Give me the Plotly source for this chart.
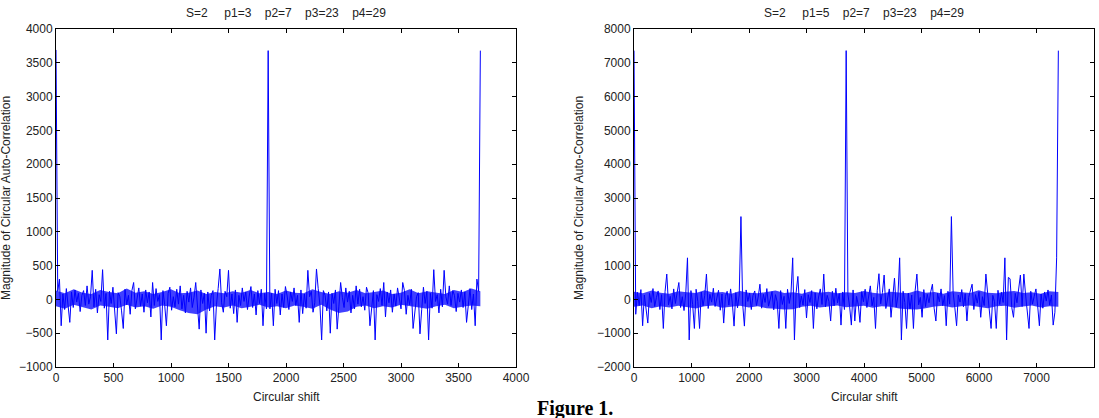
import numpy as np
import plotly.graph_objects as go

W, H = 1099, 418

# ---------------- data ----------------
left_step = 15   # circular shift between stored samples (left panel)
right_step = 30  # circular shift between stored samples (right panel)
left_end = 3690
right_end = 7380

left_first = [
    3690, 120, 300, -390, 80, -150, 160, -60, -340, 110,
    -120, 140, -40, 90, -180, 60, 130, -90, 200, -70,
    40, 430, -110, 150, -200, 70, -30, 440, -130, 90,
    -600, 120, -60, 180, -150, -510, 100, 40, -170, -430,
    150, -80, 60, -220, 130, 250, -140, 20, 170, -100,
    80, -190, 140, -50, 110, -260, 250, -90, 160, -30,
    70, -600, 130, -80, -390, 90, 180, -160, 40, -110,
    150, -70, 200, -140, 60, -200, 120, -40, 170, -120,
    30, 250, -100, -440, 140, -60, 90, -500, 110, -170,
    60, 130, -600, -80, 160, 450, -50, -190, 120, 40,
    430, -130, 80, -210, 140, -340, 60, -90, 170, -30,
    110, -150, 50, 190, -120, 80, -230, 130, -60, 150,
    -390, 90, -140,
]
left_mid = [3680]
left_second = [
    -140, 90, -390, 150, -60, 130, -230, 80, -120, 190,
    50, -150, 110, -30, 170, -90, 60, -340, 140, -210,
    80, -130, 430, 40, 120, -190, -50, 450, 160, -80,
    -600, 130, 60, -170, 110, -500, 90, -60, 140, -440,
    -100, 250, 30, -120, 170, -40, 120, -200, 60, -140,
    200, -70, 150, -110, 40, -160, 180, 90, -390, -80,
    130, -600, 70, -30, 160, -90, 250, -260, 110, -50,
    140, -190, 80, -100, 170, 20, -140, 250, 130, -220,
    60, -80, 150, -430, -170, 40, 100, -510, -150, 180,
    -60, 120, -600, 90, -130, 440, -30, 70, -200, 150,
    -110, 430, 40, -70, 200, -90, 130, 60, -180, 90,
    -40, 140, -120, 110, -340, -60, 160, -150, 80, -390,
    300, 120, 3680,
]
left_values = left_first + left_mid + left_second

right_values = [
    7360, -440, 210, -180, 290, -780, 130, -250, -700, 180,
    -90, 320, -210, 60, 250, -300, 140, -860, 230, 750,
    -160, 90, -280, 310, -120, 200, 500, -240, 80, -330,
    170, 1230, -1200, 260, -150, -860, 300, -60, -860, 220,
    -190, 110, 750, -270, 150, -80, 330, -210, 40, 270,
    -320, 160, -700, 90, 240, -170, 310, -110, -790, 200,
    -250, 130, 2450, -140, -790, 280, -60, 190, -300, 120,
    250, -180, 70, 450, -260, 150, -90, 320, -200, 60,
    230, -310, 140, -70, -860, 260, -150, 90, -860, 300,
    -120, 180, 1230, -1200, 210, 680, -240, 100, -170, 290,
    -550, 140, -90, 260, -860, 190, -280, 70, 310, -150,
    750, -220, 120, -60, -640, 240, -190, 330, -100, 170,
    -760, 220, -300,
    7360,
    150, -210, -760, 280, -640, 90,
    -150, -680, 230, -70, 300, -240, 120, 400, -190, 60,
    -860, 260, 760, -130, 200, 720, -270, 80, 310, -530,
    170, 630, -230, 100, 1230, -1200, 240, -90, -860, 190,
    -280, 130, -860, 270, 750, -160, 60, -530, 290, -210,
    150, -100, 220, 450, -260, -640, 180, -70, 310, -190,
    110, -780, 240, -140, 2450, 200, -250, -780, 130, -80,
    290, -220, 170, -640, 60, 260, 450, -300, 140, -110,
    230, -530, 80, -180, 750, 190, -260, -860, 120, -70,
    -860, 270, -150, 210, -90, 1230, -1200, 650, 610, -240,
    -530, 180, -100, 300, 720, -210, 750, 130, -280, -860,
    240, -140, 90, 310, -190, -780, 160, -260, 220, -50,
    280, -170, 130, -760, -380, 1230, 7360,
]

# dense noise core (upper / lower edges of the solid band), evenly spaced over the shift range
left_band_upper = [130, 90, 150, 100, 80, 140, 110, 90, 160, 100, 120, 80, 110, 150, 90, 100,
                   130, 80, 110, 90, 120, 100, 140, 90, 110, 80, 130, 100, 90, 150, 110, 80,
                   120, 100, 140, 90, 110, 130, 80, 100, 150, 90, 120, 100, 80, 140, 110, 160, 120]
left_band_lower = [-100, -140, -80, -120, -150, -90, -110, -130, -80, -120, -100, -140, -90,
                   -110, -160, -200, -220, -150, -100, -120, -90, -130, -110, -80, -120, -100,
                   -130, -90, -110, -140, -80, -150, -200, -180, -110, -90, -130, -100, -120,
                   -80, -110, -120, -140, -100, -80, -130, -110, -90, -100]
right_band_upper = [230, 180, 260, 200, 170, 240, 210, 190, 270, 200, 220, 170, 250, 200, 180,
                    230, 260, 190, 210, 170, 240, 200, 230, 180, 210, 190, 250, 200, 170, 230,
                    210, 180, 260, 200, 220, 170, 240, 210, 190, 270, 200, 180, 230, 250, 190,
                    210, 170, 240, 220]
right_band_lower = [-220, -180, -260, -200, -240, -190, -230, -270, -200, -180, -250, -210, -190,
                    -240, -200, -260, -280, -300, -290, -220, -190, -240, -200, -180, -230, -210,
                    -190, -250, -200, -220, -270, -290, -300, -260, -210, -190, -240, -200, -180,
                    -230, -260, -200, -190, -250, -210, -180, -240, -200, -220]

left_title = "S=2\u00a0\u00a0\u00a0\u00a0\u00a0p1=3\u00a0\u00a0\u00a0\u00a0p2=7\u00a0\u00a0\u00a0\u00a0p3=23\u00a0\u00a0\u00a0\u00a0p4=29"
right_title = "S=2\u00a0\u00a0\u00a0\u00a0\u00a0p1=5\u00a0\u00a0\u00a0\u00a0p2=7\u00a0\u00a0\u00a0\u00a0p3=23\u00a0\u00a0\u00a0\u00a0p4=29"
y_label = "Magnitude of Circular Auto-Correlation"
x_label = "Circular shift"
caption = "Figure 1."

left_x = np.arange(len(left_values)) * left_step
right_x = np.arange(len(right_values)) * right_step

# ---------------- figure ----------------
FONT = "Liberation Sans, Arial, sans-serif"
BLUE = "rgb(0,0,255)"
BAND = "rgba(0,0,255,0.75)"


def px_x(p):
    return p / W


def px_y(p):
    return 1 - p / H


fig = go.Figure()

for (end, up, lo, xa, ya) in ((left_end, left_band_upper, left_band_lower, "x", "y"),
                              (right_end, right_band_upper, right_band_lower, "x2", "y2")):
    bx = np.linspace(0, end, len(up))
    fig.add_trace(go.Scatter(x=np.concatenate([bx, bx[::-1]]),
                             y=list(up) + list(lo)[::-1],
                             mode="lines", fill="toself", fillcolor=BAND,
                             line=dict(width=0, color=BAND), xaxis=xa, yaxis=ya,
                             showlegend=False, hoverinfo="skip"))

fig.add_trace(go.Scatter(x=left_x, y=left_values, mode="lines",
                         line=dict(color=BLUE, width=1), xaxis="x", yaxis="y",
                         showlegend=False, hoverinfo="skip"))
fig.add_trace(go.Scatter(x=right_x, y=right_values, mode="lines",
                         line=dict(color=BLUE, width=1), xaxis="x2", yaxis="y2",
                         showlegend=False, hoverinfo="skip"))

ax_common = dict(showline=True, mirror="ticks", linecolor="black", linewidth=1,
                 ticks="inside", ticklen=4, tickcolor="black", showgrid=False,
                 zeroline=False, automargin=False,
                 tickfont=dict(family=FONT, size=12, color="#222"))

yb, yt = px_y(367), px_y(29)
fig.update_layout(
    width=W, height=H,
    margin=dict(l=0, r=0, t=0, b=0, pad=0, autoexpand=False),
    paper_bgcolor="white", plot_bgcolor="white",
    xaxis=dict(domain=[px_x(56), px_x(516)], range=[0, 4000], dtick=500,
               anchor="y", **ax_common),
    yaxis=dict(domain=[yb, yt], range=[-1000, 4000], dtick=500,
               anchor="x", **ax_common),
    xaxis2=dict(domain=[px_x(634), px_x(1094)], range=[0, 8000], dtick=1000,
                anchor="y2", **ax_common),
    yaxis2=dict(domain=[yb, yt], range=[-2000, 8000], dtick=1000,
                anchor="x2", **ax_common),
)

anns = []
txt_font = dict(family=FONT, size=12, color="#222")
for cx, title in ((286, left_title), (864, right_title)):
    anns.append(dict(text=title, x=px_x(cx), y=px_y(13), xref="paper", yref="paper",
                     xanchor="center", yanchor="middle", showarrow=False, font=txt_font))
    anns.append(dict(text=x_label, x=px_x(cx), y=px_y(397), xref="paper", yref="paper",
                     xanchor="center", yanchor="middle", showarrow=False, font=txt_font))
for lx in (6, 579):
    anns.append(dict(text=y_label, x=px_x(lx), y=px_y(198), xref="paper", yref="paper",
                     xanchor="center", yanchor="middle", textangle=-90, showarrow=False,
                     font=txt_font))
anns.append(dict(text="<b>" + caption + "</b>", x=px_x(575), y=px_y(408), xref="paper",
                 yref="paper", xanchor="center", yanchor="middle", showarrow=False,
                 font=dict(family="Liberation Serif, Times New Roman, serif", size=20,
                           color="black")))
fig.update_layout(annotations=anns)

fig.write_html("out.html")
